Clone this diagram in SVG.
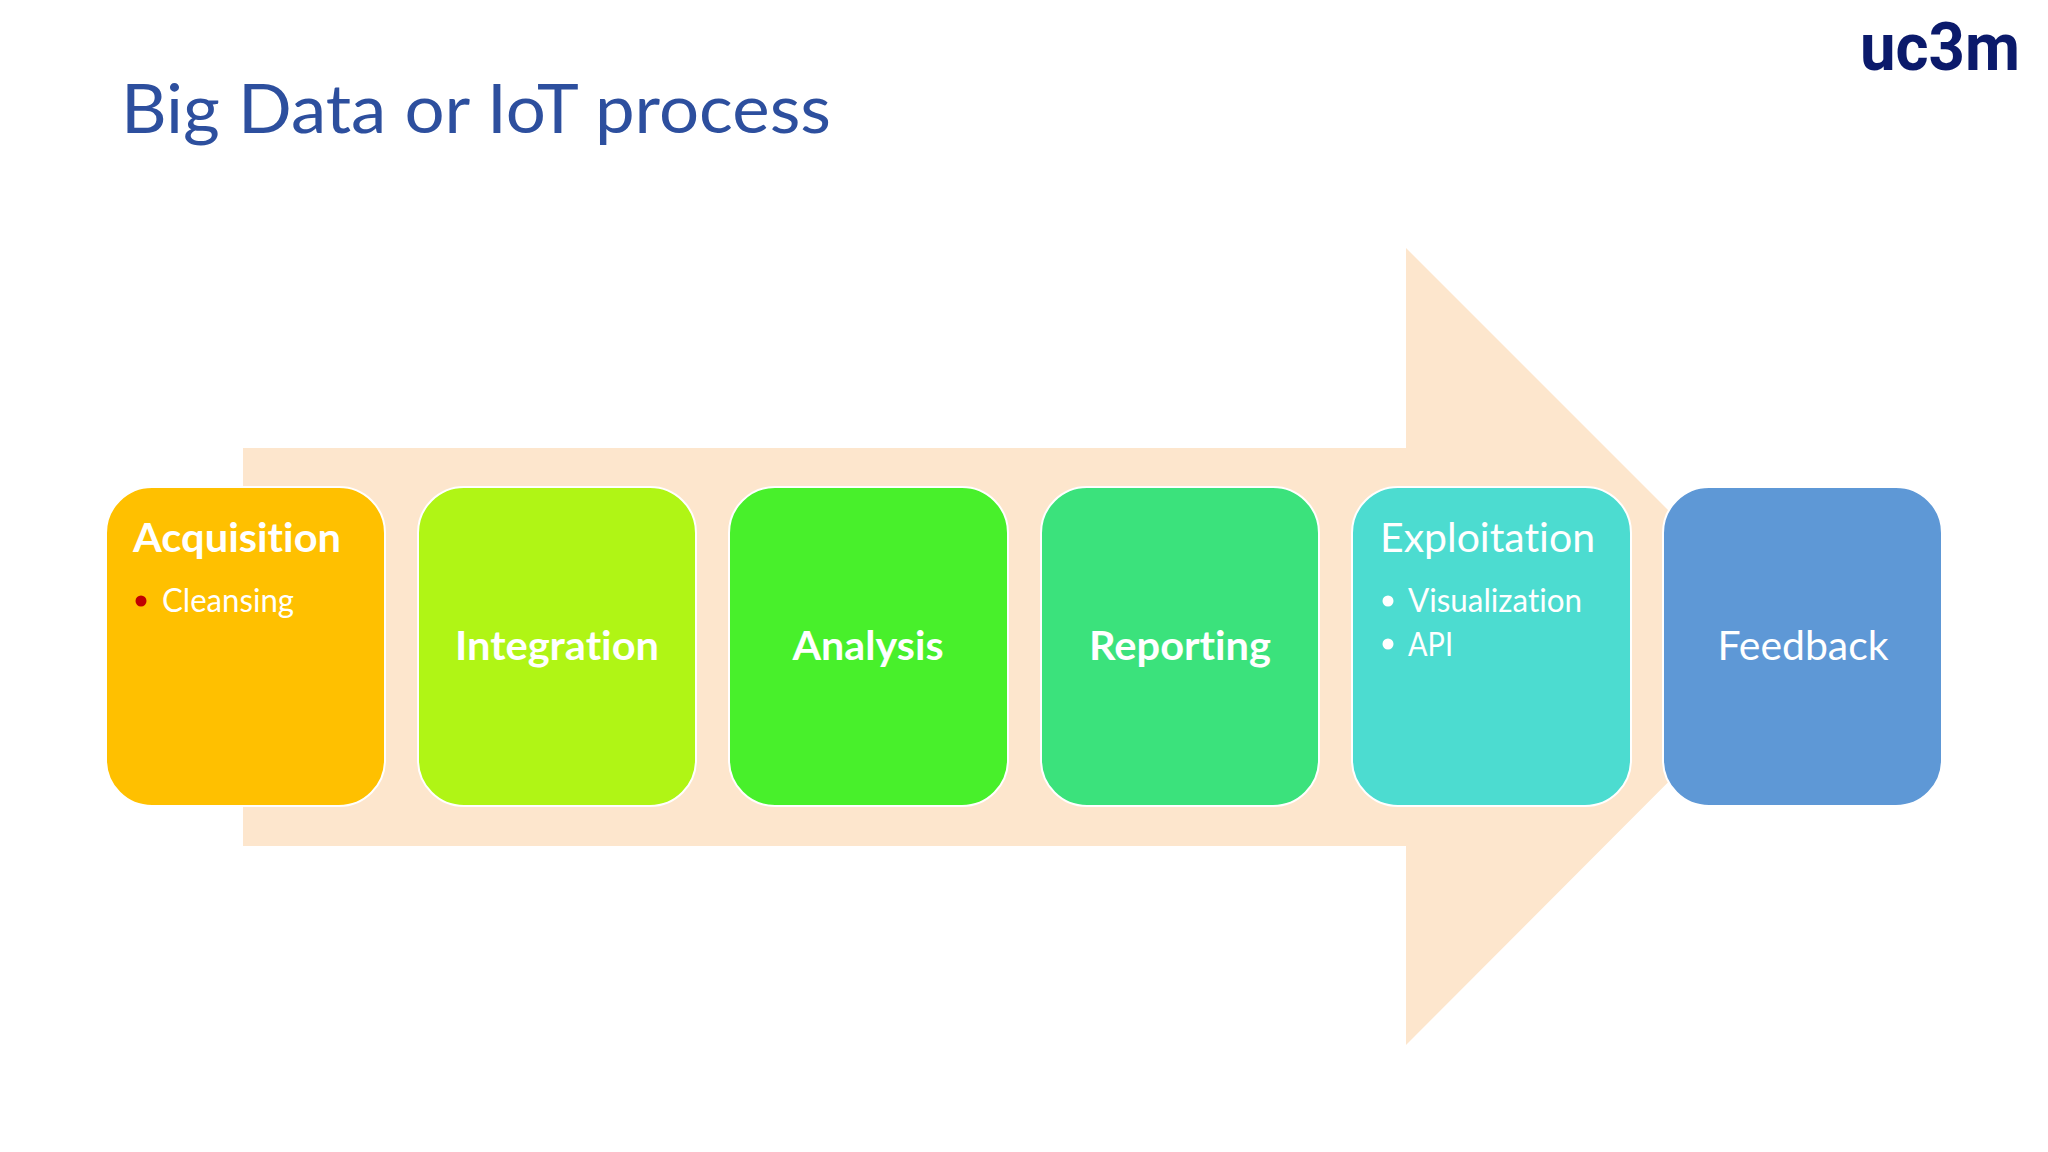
<svg xmlns="http://www.w3.org/2000/svg" width="2048" height="1152" viewBox="0 0 2048 1152">
<style>
text{font-family:Lato,"Open Sans",sans-serif;fill:#fff;font-variant-ligatures:none}
.box{stroke:#fff;stroke-width:2}
.h{font-size:41px}
.b{font-weight:700}
.c{text-anchor:middle}
.s{font-size:32px}
.l{font-family:Roboto,sans-serif;font-size:66px;font-weight:700;fill:#0b1a6b}
</style>
<rect width="2048" height="1152" fill="#fff"/>
<text x="121" y="133" font-size="68" style="fill:#2d4f9e" textLength="710" lengthAdjust="spacingAndGlyphs">Big Data or IoT process</text>
<g id="logo">
<text class="l" x="1860" y="70" textLength="160" lengthAdjust="spacingAndGlyphs">uc3m</text>
</g>
<g id="arrow"><path d="M243 448H1406V248L1804 646L1406 1045V846H243Z" fill="#fde6cd"/></g>
<g id="acquisition"><rect class="box" x="106" y="487" width="279" height="319" rx="46" fill="#ffc000"/>
<text class="h b" x="133" y="552" textLength="208" lengthAdjust="spacingAndGlyphs">Acquisition</text>
<circle cx="141" cy="601" r="5.5" fill="#c00000"/>
<text class="s" x="162" y="612" textLength="132" lengthAdjust="spacingAndGlyphs">Cleansing</text></g>
<g id="integration"><rect class="box" x="418" y="487" width="278" height="319" rx="46" fill="#b0f515"/>
<text class="h b c" x="557" y="660" textLength="204" lengthAdjust="spacingAndGlyphs">Integration</text></g>
<g id="analysis"><rect class="box" x="729" y="487" width="279" height="319" rx="46" fill="#48f02b"/>
<text class="h b c" x="868" y="660" textLength="151" lengthAdjust="spacingAndGlyphs">Analysis</text></g>
<g id="reporting"><rect class="box" x="1041" y="487" width="278" height="319" rx="46" fill="#3be27c"/>
<text class="h b c" x="1180" y="660" textLength="182" lengthAdjust="spacingAndGlyphs">Reporting</text></g>
<g id="exploitation"><rect class="box" x="1352" y="487" width="279" height="319" rx="46" fill="#4cdcd0"/>
<text class="h" x="1380" y="552" textLength="215" lengthAdjust="spacingAndGlyphs">Exploitation</text>
<circle cx="1388" cy="601" r="5.5" fill="#fff"/>
<text class="s" x="1408" y="612" textLength="174" lengthAdjust="spacingAndGlyphs">Visualization</text>
<circle cx="1388" cy="644" r="5.5" fill="#fff"/>
<text class="s" x="1408" y="656" textLength="45" lengthAdjust="spacingAndGlyphs">API</text></g>
<g id="feedback"><rect class="box" x="1663" y="487" width="279" height="319" rx="46" fill="#5e98d6"/>
<text class="h c" x="1803" y="660" textLength="171" lengthAdjust="spacingAndGlyphs">Feedback</text></g>
</svg>
